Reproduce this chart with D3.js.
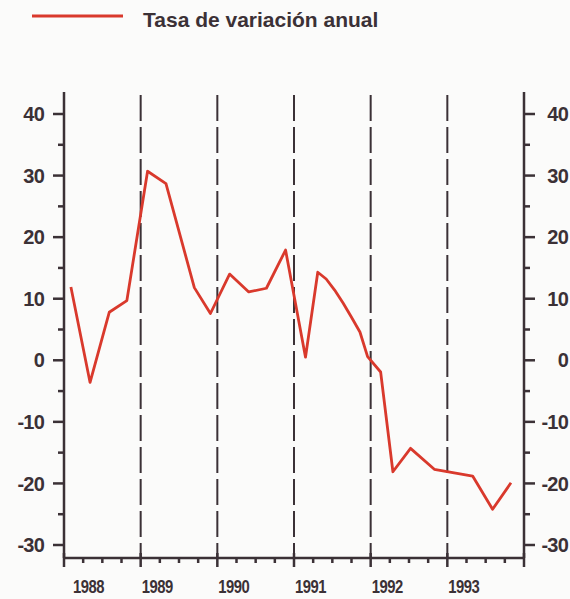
<!DOCTYPE html>
<html>
<head>
<meta charset="utf-8">
<script src="https://cdn.jsdelivr.net/npm/d3@7"></script>
<style>
	body{margin:0;background:#fbfbfa;}
	svg{display:block;font-family:'Liberation Sans',Arial,sans-serif;font-weight:bold;}
	.axis path,.axis line{stroke:#3b3136;}
	.axis text{fill:#3b3136;}
</style>
</head>
<body>
<div id="plot1"></div>
<script>
//Data: time (in years) and annual variation rate (%)
var times = [1988.09,1988.34,1988.59,1988.82,1989.09,1989.33,1989.70,1989.91,
	1990.16,1990.41,1990.64,1990.89,1991.15,1991.31,1991.42,1991.53,1991.64,1991.75,1991.86,1991.96,
	1992.13,1992.29,1992.52,1992.83,1993.33,1993.59,1993.83];
var rates = [11.9,-3.6,7.8,9.7,30.7,28.7,11.8,7.6,
	14.0,11.1,11.7,17.9,0.5,14.3,13.2,11.4,9.3,7.0,4.6,0.6,
	-1.9,-18.1,-14.3,-17.7,-18.8,-24.2,-19.9];
var years = [1988,1989,1990,1991,1992,1993];
var yTicks = [-30,-20,-10,0,10,20,30,40];
var legendLabel = 'Tasa de variación anual';

var W = 570, H = 599;
var m = {t:92,r:46,b:41,l:64}; //plot edges: x 64..524, y 92..558

var svg = d3.select('#plot1')
	.append('svg')
	.attr('width',W)
	.attr('height',H);

var scaleX = d3.scaleLinear().domain([1988,1994]).range([m.l,W-m.r]),
	scaleY = d3.scaleLinear().domain([40,-30]).range([114,545]);
var yTop = m.t, yBottom = H - m.b;

//dashed year separators
svg.selectAll('.sep')
	.data(years.slice(1))
	.enter()
	.append('line').attr('class','sep')
	.attr('x1',function(d){return scaleX(d)})
	.attr('x2',function(d){return scaleX(d)})
	.attr('y1',yTop+3)
	.attr('y2',yBottom)
	.style('stroke','#3b3136')
	.style('stroke-width',2)
	.style('stroke-dasharray','26,6');

//y axes, major and minor ticks
var minorY = d3.range(-30,41,5).filter(function(d){return d%10!==0});

function drawYAxis(side){
	var x0 = side==='left' ? scaleX.range()[0] : scaleX.range()[1],
		dir = side==='left' ? -1 : 1;
	var g = svg.append('g').attr('class','axis axis-y');
	g.append('line')
		.attr('x1',x0).attr('x2',x0)
		.attr('y1',yTop).attr('y2',yBottom)
		.style('stroke-width',2.5);
	g.selectAll('.major')
		.data(yTicks)
		.enter()
		.append('line').attr('class','major')
		.attr('x1',x0).attr('x2',x0+dir*11)
		.attr('y1',function(d){return scaleY(d)})
		.attr('y2',function(d){return scaleY(d)})
		.style('stroke-width',2.5);
	g.selectAll('.minor')
		.data(minorY)
		.enter()
		.append('line').attr('class','minor')
		.attr('x1',x0).attr('x2',x0+dir*6)
		.attr('y1',function(d){return scaleY(d)})
		.attr('y2',function(d){return scaleY(d)})
		.style('stroke-width',2.5);
	g.selectAll('text')
		.data(yTicks)
		.enter()
		.append('text')
		.attr('x',side==='left' ? 44 : 568)
		.attr('y',function(d){return scaleY(d)})
		.attr('dy','0.36em')
		.attr('text-anchor','end')
		.style('font-size','20px')
		.style('letter-spacing','-0.8px')
		.text(function(d){return d});
}
drawYAxis('left');
drawYAxis('right');

//x axis: quarterly ticks, year labels
var gx = svg.append('g').attr('class','axis axis-x');
gx.append('line')
	.attr('x1',scaleX(1988)).attr('x2',scaleX(1994))
	.attr('y1',yBottom).attr('y2',yBottom)
	.style('stroke-width',2.5);
gx.selectAll('.tick-x')
	.data(d3.range(1988,1994.01,0.25))
	.enter()
	.append('line').attr('class','tick-x')
	.attr('x1',function(d){return scaleX(d)})
	.attr('x2',function(d){return scaleX(d)})
	.attr('y1',function(d){return d%1===0 ? yBottom-5 : yBottom})
	.attr('y2',function(d){return d%1===0 ? yBottom+9 : yBottom+5})
	.style('stroke-width',2.5);
gx.selectAll('text')
	.data(years)
	.enter()
	.append('text')
	.attr('transform',function(d,i){
		return 'translate('+(scaleX(d) + (i===0 ? 9 : 1))+',593) scale(0.78,1)';
	})
	.style('font-size','19px')
	.style('letter-spacing','-0.6px')
	.text(function(d){return d});

//series line
var line = d3.line()
	.x(function(d){return scaleX(d.t)})
	.y(function(d){return scaleY(d.v)});

var series = times.map(function(t,i){return {t:t,v:rates[i]}});

svg.append('path')
	.datum(series)
	.attr('d',line)
	.style('fill','none')
	.style('stroke','#d9392c')
	.style('stroke-width',2.8)
	.style('stroke-linejoin','round');

//legend
svg.append('line')
	.attr('x1',32).attr('x2',123)
	.attr('y1',16).attr('y2',16)
	.style('stroke','#d9392c')
	.style('stroke-width',2.8);
svg.append('text')
	.attr('x',143)
	.attr('y',27)
	.style('font-size','21px')
	.style('fill','#3b3136')
	.text(legendLabel);
</script>
</body>
</html>
